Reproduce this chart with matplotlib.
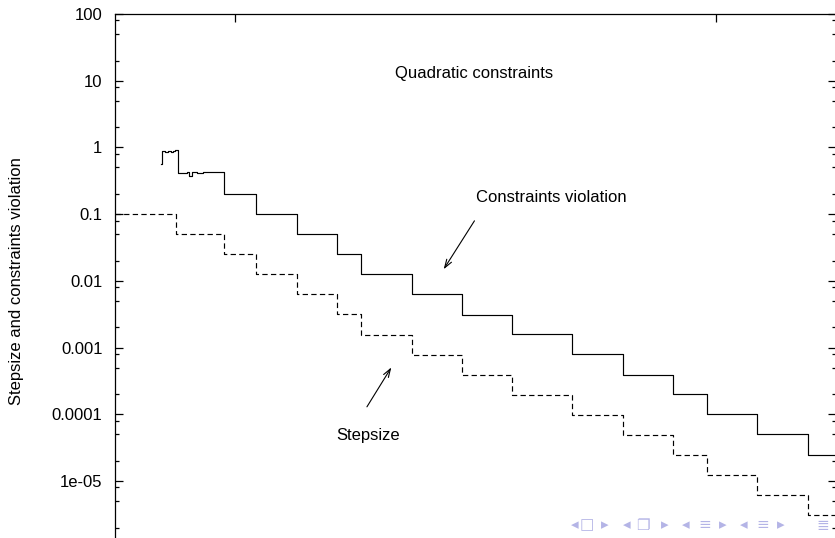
import numpy as np
import matplotlib
matplotlib.use("Agg")
import matplotlib.pyplot as plt
from matplotlib.ticker import LogLocator, FixedLocator, FixedFormatter, NullFormatter

plt.rcParams['font.family'] = ['Liberation Sans', 'DejaVu Sans']

# step boundaries (iterations), shared by both curves
step_x = [0, 505, 908, 1171, 1512, 1850, 2050, 2471, 2888, 3308, 3808, 4225, 4642, 4925, 5346, 5769, 6000]

# stepsize, halved at every step
stepsize = [0.1, 0.05, 0.025, 0.0125, 0.00625, 0.003125, 0.0015625, 7.8e-4, 3.9e-4,
            1.95e-4, 9.8e-5, 4.9e-5, 2.44e-5, 1.22e-5, 6.1e-6, 3.05e-6, 3.05e-6]

# constraints violation: noisy start ...
viol_head_x = [380, 394, 417, 444, 464, 481, 497, 527, 556, 583, 603, 619, 639, 681, 736, 897]
viol_head_y = [0.556, 0.889, 0.86, 0.87, 0.84, 0.88, 0.93, 0.408, 0.416, 0.408, 0.422,
               0.372, 0.43, 0.42, 0.422, 0.43]
# ... then the staircase
viol_x = [908, 1171, 1512, 1850, 2050, 2471, 2888, 3308, 3808, 4225, 4642, 4925, 5346, 5769, 6000]
viol_y = [0.2, 0.1, 0.05, 0.025, 0.0125, 0.00625, 0.0031, 0.00158, 0.00079, 0.00039,
          0.0002, 0.0001, 5e-5, 2.45e-5, 2.45e-5]

yticks = [1e-6, 1e-5, 1e-4, 1e-3, 1e-2, 1e-1, 1, 10, 100]
# the 1e-06 label falls below the slide edge
ytick_labels = ['', '1e-05', '0.0001', '0.001', '0.01', '0.1', '1', '10', '100']
xticks = [1000, 5000]

nav_symbols = ['\u25c2', '\u25a1', '\u25b8', '\u25c2', '\u2750', '\u25b8',
               '\u25c2', '\u2261', '\u25b8', '\u25c2', '\u2261', '\u25b8', '\u2263']
nav_px = [575, 587, 605, 627, 643, 665, 686, 705, 723, 744, 763, 781, 823]

W, H = 835, 538
fig = plt.figure(figsize=(W / 100, H / 100), dpi=100)
# plot area is cut off at the bottom of the slide
bot = 547.6
ax = fig.add_axes([115 / W, (H - bot) / H, 1.001 - 115 / W, (bot - 14) / H])

ax.set_yscale('log')
ax.set_xlim(0, 6000)
ax.set_ylim(1e-6, 100)

vx = np.concatenate([viol_head_x, viol_x])
vy = np.concatenate([viol_head_y, viol_y])
ax.plot(vx, vy, color='black', lw=0.85, drawstyle='steps-post')
ax.plot(step_x, stepsize, color='black', lw=0.85, drawstyle='steps-post',
        linestyle=(0, (4.5, 2.8)))

ax.yaxis.set_major_locator(FixedLocator(yticks))
ax.yaxis.set_major_formatter(FixedFormatter(ytick_labels))
ax.yaxis.set_minor_locator(LogLocator(base=10, subs=[2, 5, 8], numticks=20))
ax.yaxis.set_minor_formatter(NullFormatter())
ax.set_xticks(xticks)
ax.tick_params(which='both', direction='in', top=True, right=True,
               labelbottom=False, labelsize=12, width=0.9, pad=9)
ax.tick_params(which='major', length=5.8)
ax.tick_params(which='minor', length=2.9)
for s in ax.spines.values():
    s.set_linewidth(0.9)

fig.text(16.7 / W, 1 - 281 / H, 'Stepsize and constraints violation',
         rotation=90, ha='center', va='center', fontsize=12)

ax.text(2992, 13.0, 'Quadratic constraints', ha='center', va='center', fontsize=12)
ax.text(3633, 0.18, 'Constraints violation', ha='center', va='center', fontsize=12)
ax.text(2106, 4.86e-5, 'Stepsize', ha='center', va='center', fontsize=12)

arrow = dict(arrowstyle='->,head_length=0.6,head_width=0.2', color='black', lw=0.8,
             shrinkA=0, shrinkB=0)
ax.annotate('', xy=(2736, 0.0149), xytext=(2992, 0.0793), arrowprops=arrow)
ax.annotate('', xy=(2300, 5.03e-4), xytext=(2097, 1.29e-4), arrowprops=arrow)

# beamer navigation symbols
for s, px in zip(nav_symbols, nav_px):
    fig.text(px / W, 1 - 525 / H, s, ha='center', va='center', fontsize=11,
             color='#b4b4e6', family=['DejaVu Sans'])

fig.savefig('out.png', dpi=100)
